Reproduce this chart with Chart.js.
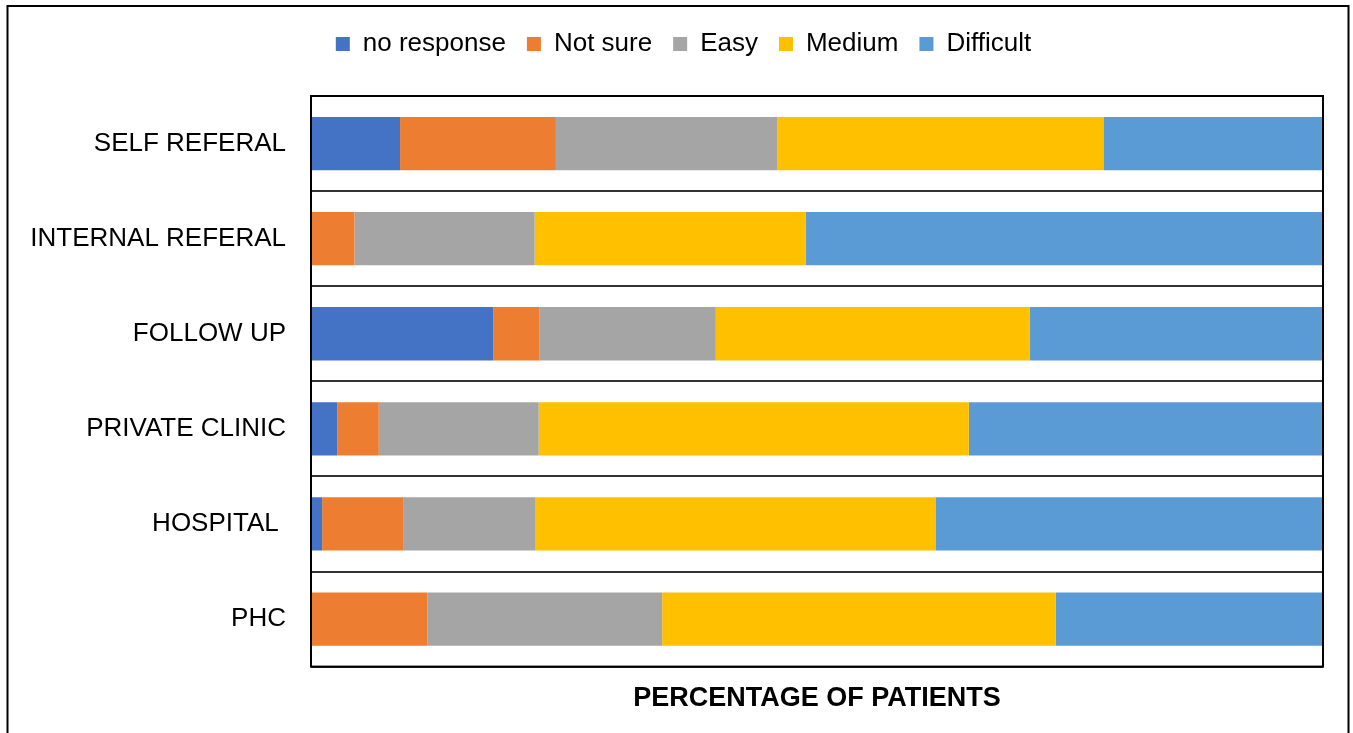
<!DOCTYPE html>
<html>
<head>
<meta charset="utf-8">
<script src="https://cdn.jsdelivr.net/npm/chart.js@4"></script>
<style>
    body { margin: 0; background: #fff; }
    #wrap { width: 1353px; height: 733px; }
</style>
</head>
<body>
<div id="wrap"><canvas id="bar-chart" width="1353" height="733"></canvas></div>
<script>
// Categories (top to bottom) and percentage of patients per answer
const categories = ["SELF REFERAL", "INTERNAL REFERAL", "FOLLOW UP", "PRIVATE CLINIC", "HOSPITAL ", "PHC"];
const noResponse = [8.8, 0, 18.0, 2.6, 1.1, 0];
const notSure    = [15.4, 4.3, 4.6, 4.1, 8.0, 11.5];
const easy       = [21.9, 17.8, 17.4, 15.8, 13.1, 23.2];
const medium     = [32.2, 26.8, 31.0, 42.5, 39.5, 38.9];
const difficult  = [21.7, 51.1, 29.0, 35.0, 38.3, 26.4];

const seriesNames = ["no response", "Not sure", "Easy", "Medium", "Difficult"];
const seriesData = [noResponse, notSure, easy, medium, difficult];
const colors = ["#4472C4", "#ED7D31", "#A5A5A5", "#FFC000", "#5B9BD5"];

const FONT = "'Liberation Sans', Arial, sans-serif";

document.addEventListener("DOMContentLoaded", () => {
    // extra room under the legend, and nudge it right a bit
    const legendTweak = {
        id: "legendTweak",
        beforeInit(chart) {
            const fit = chart.legend.fit;
            chart.legend.fit = function () {
                fit.bind(chart.legend)();
                this.height += 29;
            };
        },
        afterLayout(chart) {
            chart.legend.left = 44;
        }
    };

    // plot area box and the outer frame
    const frames = {
        id: "frames",
        afterDraw(chart) {
            const { ctx, chartArea } = chart;
            ctx.save();
            ctx.strokeStyle = "#000";
            ctx.lineWidth = 2;
            ctx.strokeRect(chartArea.left, chartArea.top, chartArea.right - chartArea.left, chartArea.bottom - chartArea.top);
            ctx.beginPath();
            ctx.moveTo(7.5, 740);
            ctx.lineTo(7.5, 6);
            ctx.lineTo(1348.5, 6);
            ctx.lineTo(1348.5, 740);
            ctx.stroke();
            ctx.restore();
        }
    };

    new Chart(document.getElementById("bar-chart"), {
        type: "bar",
        data: {
            labels: categories,
            datasets: seriesNames.map((name, i) => ({
                label: name,
                data: seriesData[i],
                backgroundColor: colors[i],
                borderWidth: 0,
                barPercentage: 0.56,
                categoryPercentage: 1
            }))
        },
        options: {
            indexAxis: "y",
            responsive: false,
            animation: false,
            layout: { padding: { top: 10, left: 0, right: 30, bottom: 18 } },
            plugins: {
                legend: {
                    position: "top",
                    labels: {
                        boxWidth: 14,
                        boxHeight: 14,
                        padding: 21,
                        color: "#000",
                        font: { family: FONT, size: 26 }
                    }
                },
                tooltip: { enabled: false }
            },
            scales: {
                x: {
                    stacked: true,
                    min: 0,
                    max: 100,
                    ticks: { display: false },
                    grid: { display: false, drawTicks: false },
                    border: { display: false },
                    title: {
                        display: true,
                        text: "PERCENTAGE OF PATIENTS",
                        color: "#000",
                        font: { family: FONT, size: 27, weight: "bold" },
                        padding: { top: 16, bottom: 0 }
                    }
                },
                y: {
                    stacked: true,
                    afterFit(scale) { scale.width = 311; },
                    ticks: {
                        color: "#000",
                        padding: 25,
                        font: { family: FONT, size: 26 }
                    },
                    grid: { offset: true, color: "#333", lineWidth: 2, drawTicks: false },
                    border: { display: false }
                }
            }
        },
        plugins: [legendTweak, frames]
    });
});
</script>
</body>
</html>
